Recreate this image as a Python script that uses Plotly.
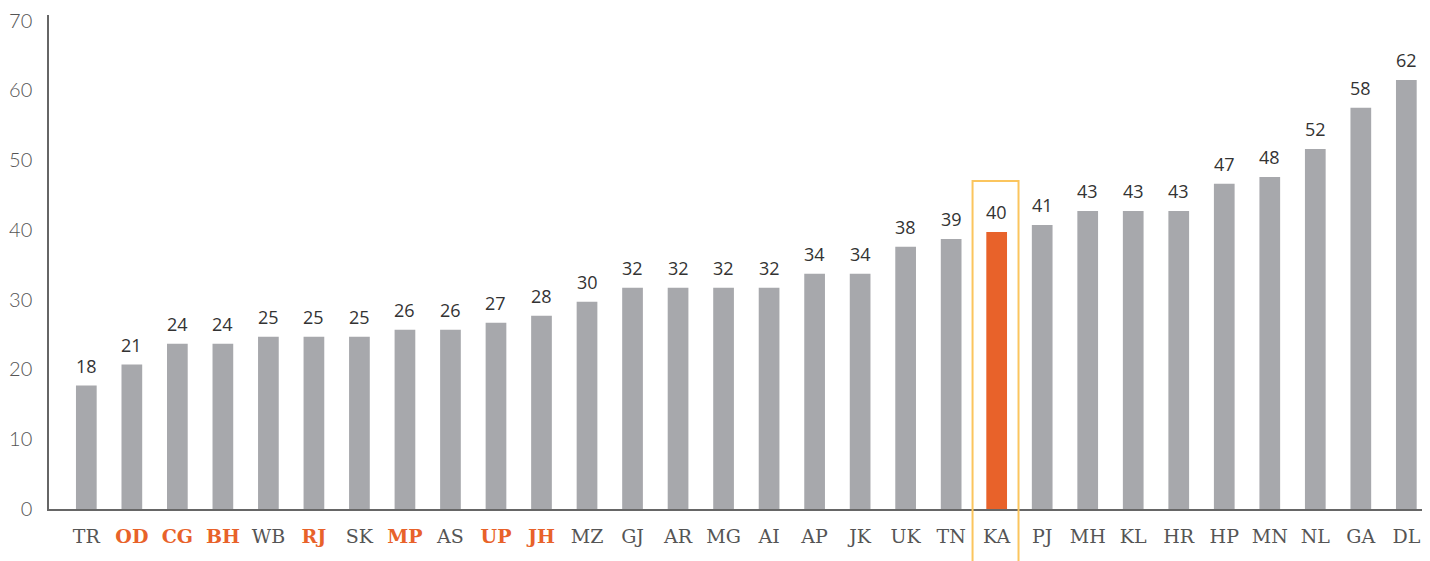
import plotly.graph_objects as go

# State codes, bar values and the printed labels
states = ['TR', 'OD', 'CG', 'BH', 'WB', 'RJ', 'SK', 'MP', 'AS', 'UP',
          'JH', 'MZ', 'GJ', 'AR', 'MG', 'AI', 'AP', 'JK', 'UK', 'TN',
          'KA', 'PJ', 'MH', 'KL', 'HR', 'HP', 'MN', 'NL', 'GA', 'DL']
values = [17.7, 20.7, 23.7, 23.7, 24.7, 24.7, 24.7, 25.7, 25.7, 26.7,
          27.7, 29.7, 31.7, 31.7, 31.7, 31.7, 33.7, 33.7, 37.6, 38.7,
          39.7, 40.7, 42.7, 42.7, 42.7, 46.6, 47.6, 51.6, 57.5, 61.5]
labels = ['18', '21', '24', '24', '25', '25', '25', '26', '26', '27',
          '28', '30', '32', '32', '32', '32', '34', '34', '38', '39',
          '40', '41', '43', '43', '43', '47', '48', '52', '58', '62']
flagged = ['OD', 'CG', 'BH', 'RJ', 'MP', 'UP', 'JH']
focus = 'KA'
box_top = 47

GREY = '#a7a8ac'
ORANGE = '#e8622a'
BOX = '#fbc55e'
AXIS = '#666666'

bar_colors = [ORANGE if s == focus else GREY for s in states]
tick_text = [
    f"<span style='color:{ORANGE}'><b>{s}</b></span>" if s in flagged else s
    for s in states
]

fig = go.Figure()

fig.add_trace(go.Bar(
    x=states,
    y=values,
    marker=dict(color=bar_colors, line_width=0),
    hoverinfo='x+y',
    showlegend=False
))

# value labels sit a little above each bar
for s, v, lab in zip(states, values, labels):
    fig.add_annotation(
        x=s, y=v, text=lab,
        showarrow=False,
        yanchor='bottom',
        yshift=6,
        font=dict(family='Open Sans', size=18, color='#333333')
    )

# highlight box around the focus state, running off the bottom of the page
ki = states.index(focus)
ymax = 70.8
fig.add_shape(
    type='rect',
    xref='x', yref='paper',
    x0=ki - 0.53, x1=ki + 0.48,
    y0=-0.3, y1=box_top / ymax,
    line=dict(color=BOX, width=2),
    fillcolor='rgba(0,0,0,0)',
    layer='above'
)

# page body has an 8px margin, so the figure is a bit smaller than the window
fig.update_layout(
    width=1422,
    height=553,
    margin=dict(l=41, r=0, t=7, b=52),
    plot_bgcolor='white',
    paper_bgcolor='white',
    bargap=0.545,
    xaxis=dict(
        range=[-0.82, 29.52],
        tickmode='array',
        tickvals=states,
        ticktext=tick_text,
        tickfont=dict(family='DejaVu Serif', size=19, color='#555555'),
        showline=True,
        linecolor=AXIS,
        linewidth=2,
        ticks='outside',
        ticklen=9,
        tickcolor='rgba(0,0,0,0)',
        showgrid=False,
        zeroline=False,
        fixedrange=True
    ),
    yaxis=dict(
        range=[0, ymax],
        tickmode='linear',
        tick0=0,
        dtick=10,
        tickfont=dict(family='Lato', size=20, color='#555555', weight=300),
        ticklabeloverflow='allow',
        showline=True,
        linecolor=AXIS,
        linewidth=1.5,
        ticks='outside',
        ticklen=11,
        tickcolor='rgba(0,0,0,0)',
        showgrid=False,
        zeroline=False,
        fixedrange=True
    )
)

fig.write_html("out.html")
